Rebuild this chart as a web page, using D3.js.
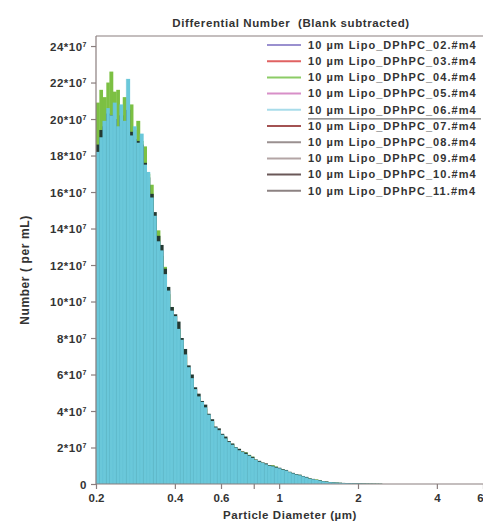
<!DOCTYPE html>
<html>
<head>
<meta charset="utf-8">
<script src="https://cdn.jsdelivr.net/npm/d3@7"></script>
<style>
  html, body { margin: 0; padding: 0; background: #fff; }
  svg { display: block; font-family: "Liberation Sans", Arial, sans-serif; }
</style>
</head>
<body>
<svg id="chart" width="483" height="522"></svg>
<script>
// Bin edges of the size distribution (µm), log-spaced instrument channels
const binEdges = [0.2, 0.206, 0.212, 0.219, 0.225, 0.232, 0.239, 0.246, 0.253, 0.261,
  0.269, 0.277, 0.285, 0.294, 0.303, 0.312, 0.321, 0.331, 0.340, 0.351,
  0.361, 0.372, 0.383, 0.395, 0.407, 0.419, 0.431, 0.444, 0.458, 0.471,
  0.485, 0.500, 0.515, 0.530, 0.546, 0.563, 0.580, 0.597, 0.615, 0.633,
  0.652, 0.672, 0.692, 0.713, 0.734, 0.756, 0.779, 0.802, 0.826, 0.851,
  0.877, 0.903, 0.930, 0.958, 0.987, 1.016, 1.047, 1.078, 1.111, 1.144,
  1.178, 1.214, 1.250, 1.288, 1.326, 1.366, 1.407, 1.449, 1.493, 1.537,
  1.584, 1.631, 1.680, 1.730, 1.782, 1.836, 1.891, 1.948, 2.006, 2.066,
  2.128, 2.192, 2.258, 2.326, 2.395, 2.467];

// Differential number per bin, in units of 10^7 per mL
const run04 = [20.9, 21.6, 21.2, 22.0, 22.6, 21.5, 21.6, 20.6, 21.2, 20.4,
  20.8, 19.4, 19.9, 18.8, 18.5, 17.0, 16.4, 14.6, 13.9, 12.5,
  11.9, 10.4, 9.7, 8.9, 8.5, 7.6, 7.0, 6.2, 5.7, 5.0,
  4.7, 4.3, 4.1, 3.6, 3.4, 3.0, 2.9, 2.7, 2.5, 2.3,
  2.2, 2.0, 1.9, 1.78, 1.74, 1.6, 1.5, 1.33, 1.25, 1.16,
  1.1, 1.02, 1.03, 0.96, 0.86, 0.8, 0.75, 0.66, 0.6, 0.54,
  0.5, 0.43, 0.37, 0.3, 0.27, 0.25, 0.22, 0.15, 0.13, 0.1,
  0.085, 0.075, 0.065, 0.055, 0.048, 0.042, 0.036, 0.03, 0.026, 0.022,
  0.019, 0.016, 0.014, 0.012, 0.011];
const run10 = [18.6, 19.4, 19.6, 20.3, 20.2, 20.0, 19.4, 20.2, 19.6, 20.5,
  19.3, 18.9, 18.8, 18.6, 17.6, 16.8, 15.9, 14.9, 13.6, 13.1,
  11.8, 10.8, 9.7, 9.3, 8.9, 8.0, 7.4, 6.5, 6.0, 5.3,
  4.95, 4.55, 4.35, 3.85, 3.55, 3.15, 3.05, 2.75, 2.6, 2.35,
  2.22, 2.02, 1.93, 1.78, 1.72, 1.58, 1.49, 1.34, 1.27, 1.18,
  1.13, 1.03, 1.0, 0.94, 0.89, 0.81, 0.77, 0.67, 0.61, 0.54,
  0.51, 0.44, 0.39, 0.31, 0.28, 0.23, 0.21, 0.16, 0.14, 0.11,
  0.09, 0.08, 0.07, 0.06, 0.05, 0.045, 0.04, 0.035, 0.03, 0.025,
  0.02, 0.018, 0.016, 0.014, 0.012];
const run06 = [18.2, 19.0, 19.9, 20.6, 20.2, 20.9, 19.6, 20.8, 19.9, 22.2,
  19.1, 19.6, 18.7, 19.2, 17.5, 17.1, 15.7, 14.7, 13.3, 12.8,
  11.5, 10.6, 9.5, 9.2, 8.5, 7.9, 7.1, 6.4, 5.8, 5.2,
  4.8, 4.5, 4.2, 3.8, 3.45, 3.1, 2.95, 2.7, 2.5, 2.3,
  2.15, 2.0, 1.85, 1.75, 1.65, 1.55, 1.43, 1.32, 1.22, 1.16,
  1.08, 1.0, 0.97, 0.9, 0.86, 0.78, 0.74, 0.65, 0.58, 0.52,
  0.48, 0.42, 0.36, 0.29, 0.26, 0.22, 0.19, 0.15, 0.12, 0.1,
  0.085, 0.075, 0.065, 0.055, 0.048, 0.042, 0.038, 0.033, 0.028, 0.024,
  0.02, 0.017, 0.015, 0.013, 0.012];

// Legend entries (file names) and their colours
const fileNames = ["10 µm Lipo_DPhPC_02.#m4", "10 µm Lipo_DPhPC_03.#m4", "10 µm Lipo_DPhPC_04.#m4",
  "10 µm Lipo_DPhPC_05.#m4", "10 µm Lipo_DPhPC_06.#m4", "10 µm Lipo_DPhPC_07.#m4",
  "10 µm Lipo_DPhPC_08.#m4", "10 µm Lipo_DPhPC_09.#m4", "10 µm Lipo_DPhPC_10.#m4",
  "10 µm Lipo_DPhPC_11.#m4"];
const fileColors = ["#9a90cf", "#e06262", "#8ccc66", "#d88fc8", "#a8dcea",
  "#a35252", "#9a9090", "#b3a5a5", "#6a5858", "#8c8282"];

// Axis ticks
const yTicks = [0, 2, 4, 6, 8, 10, 12, 14, 16, 18, 20, 22, 24];
const xTicks = [0.2, 0.4, 0.6, 0.8, 1, 2, 4, 6];
const xTickLabels = ["0.2", "0.4", "0.6", "", "1", "2", "4", "6"];

const svg = d3.select("#chart");
const plotLeft = 96, plotRight = 483, plotTop = 36, plotBottom = 484;
const axisColor = "#8a7e7e";
const textColor = "#333";

const x = d3.scaleLog().domain([0.2, 6]).range([plotLeft, plotRight]);
const y = d3.scaleLinear().domain([0, 24.55]).range([plotBottom, plotTop]);

// Histogram layers, drawn back to front
const layers = [
  { values: run04, fill: "#7cc043" },
  { values: run10, fill: "#243a33" },
  { values: run06, fill: "#6ac8da" }
];
const plot = svg.append("g");
layers.forEach(layer => {
  plot.append("g").selectAll("rect")
    .data(layer.values)
    .join("rect")
    .attr("x", (d, i) => x(binEdges[i]))
    .attr("width", (d, i) => x(binEdges[i + 1]) - x(binEdges[i]) + 0.4)
    .attr("y", d => y(d))
    .attr("height", d => plotBottom - y(d))
    .attr("fill", layer.fill);
});
// faint channel separators inside the fill
plot.append("g").selectAll("line")
  .data(run06)
  .join("line")
  .attr("x1", (d, i) => x(binEdges[i]))
  .attr("x2", (d, i) => x(binEdges[i]))
  .attr("y1", d => y(d))
  .attr("y2", plotBottom)
  .attr("stroke", "#58b7cb")
  .attr("stroke-opacity", 0.35)
  .attr("stroke-width", 0.8);

// Frame: top rule, left and bottom axes
svg.append("line").attr("x1", plotLeft).attr("x2", plotRight).attr("y1", plotTop).attr("y2", plotTop)
  .attr("stroke", axisColor).attr("stroke-width", 1.2);

const yAxis = svg.append("g").attr("transform", `translate(${plotLeft},0)`)
  .call(d3.axisLeft(y).tickValues(yTicks).tickSize(5).tickFormat(""));
yAxis.select(".domain").attr("stroke", axisColor).attr("stroke-width", 1.2)
  .attr("d", `M0,${plotTop}V${plotBottom}`);
yAxis.selectAll(".tick line").attr("stroke", axisColor).attr("stroke-width", 1.2);
yAxis.selectAll(".tick").each(function (d) {
  const t = d3.select(this).append("text")
    .attr("x", -9).attr("dy", "0.35em")
    .attr("text-anchor", "end")
    .attr("fill", textColor)
    .attr("font-size", 11.5).attr("font-weight", "bold")
    .attr("letter-spacing", 0.5);
  if (d === 0) { t.text("0"); return; }
  t.append("tspan").text(d + "*10");
  t.append("tspan").attr("font-size", 7).attr("dy", "-0.55em").text("7");
});

const xAxis = svg.append("g").attr("transform", `translate(0,${plotBottom})`)
  .call(d3.axisBottom(x).tickValues(xTicks).tickSize(5)
    .tickFormat((d, i) => xTickLabels[i]));
xAxis.select(".domain").attr("stroke", axisColor).attr("stroke-width", 1.2)
  .attr("d", `M${plotLeft},0H${plotRight}`);
xAxis.selectAll(".tick line").attr("stroke", axisColor).attr("stroke-width", 1.2);
xAxis.selectAll(".tick text").attr("fill", textColor).attr("font-size", 11.5)
  .attr("font-weight", "bold").attr("dy", "0.9em")
  .attr("font-family", "Liberation Sans, Arial, sans-serif")
  .attr("dx", d => d === 6 ? -3 : 0);

// Titles
svg.append("text").attr("x", 291).attr("y", 27).attr("text-anchor", "middle")
  .attr("fill", textColor).attr("font-size", 11.5).attr("font-weight", "bold")
  .attr("letter-spacing", 0.6)
  .attr("xml:space", "preserve")
  .text("Differential Number  (Blank subtracted)");
svg.append("text").attr("x", 290).attr("y", 519).attr("text-anchor", "middle")
  .attr("fill", textColor).attr("font-size", 11.5).attr("font-weight", "bold")
  .attr("letter-spacing", 0.55)
  .text("Particle Diameter (µm)");
svg.append("text").attr("transform", "translate(29,270) rotate(-90)")
  .attr("text-anchor", "middle").attr("fill", textColor)
  .attr("font-size", 12).attr("font-weight", "bold")
  .attr("letter-spacing", 0.6)
  .text("Number ( per mL)");

// Legend
const legend = svg.append("g");
const rowY = i => 45 + i * 16.2;
fileNames.forEach((name, i) => {
  legend.append("line").attr("x1", 267).attr("x2", 301)
    .attr("y1", rowY(i)).attr("y2", rowY(i))
    .attr("stroke", fileColors[i]).attr("stroke-width", 2);
  legend.append("text").attr("x", 308).attr("y", rowY(i)).attr("dy", "0.35em")
    .attr("fill", textColor).attr("font-size", 11).attr("font-weight", "bold")
    .attr("letter-spacing", 1.05)
    .text(name);
});
legend.append("line").attr("x1", 308).attr("x2", 481)
  .attr("y1", rowY(4) + 9).attr("y2", rowY(4) + 9)
  .attr("stroke", "#777").attr("stroke-width", 1.2);
</script>
</body>
</html>
